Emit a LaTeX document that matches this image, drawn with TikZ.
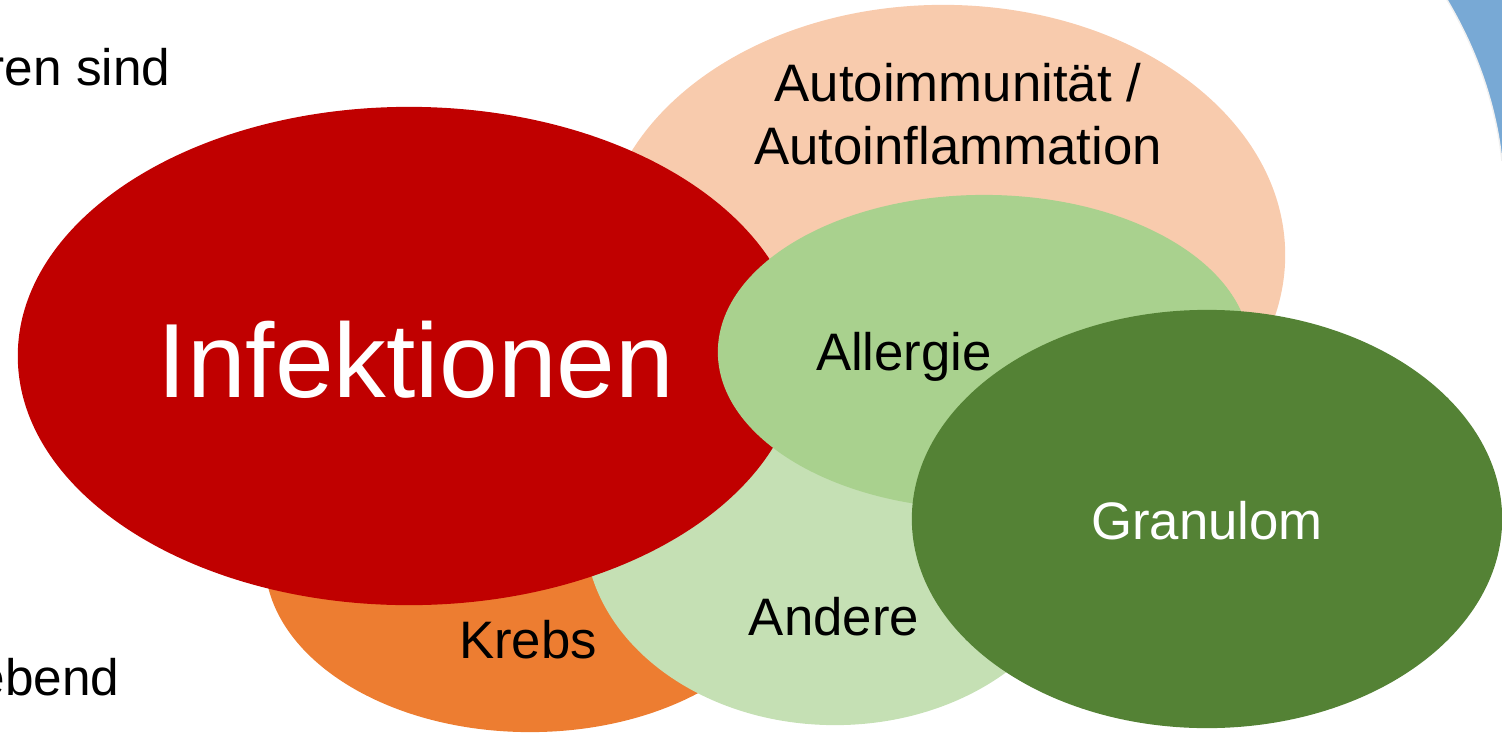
\documentclass[tikz,border=0pt]{standalone}
\usepackage{fontspec}
\setmainfont{Liberation Sans}
\usetikzlibrary{shapes.geometric,positioning}

\definecolor{InfRed}{HTML}{C00000}
\definecolor{AutoPeach}{HTML}{F8CBAD}
\definecolor{KrebsOrange}{HTML}{ED7D31}
\definecolor{AndereGreen}{HTML}{C5E0B4}
\definecolor{AllergieGreen}{HTML}{A9D18E}
\definecolor{GranGreen}{HTML}{548235}
\definecolor{SlideBlue}{HTML}{78A9D5}

\begin{document}
\begin{tikzpicture}[x=0.01cm,y=-0.01cm]
\tikzset{
blob/.style={ ellipse , draw=none , inner sep=0pt },
label/.style={ font=\fontsize{15}{18}\selectfont , align=center , inner sep=0pt },
sidetext/.style={ font=\fontsize{14.6}{17}\selectfont , inner sep=0pt , anchor=base east }
}
\useasboundingbox (0,0) rectangle (1502,733);

% slide background corner
\begin{scope}
\clip (1380,0) rectangle (1502,160);
\fill[SlideBlue] (1380,0) rectangle (1502,160);
\filldraw[fill=white,draw=black!6,line width=0.4pt] (750,200) ellipse [x radius=754,y radius=524];
\end{scope}

% ellipses, back to front
\node[blob, fill=AutoPeach, minimum width=6.84cm, minimum height=5.0cm] (auto) at (943,255) {};
\node[blob, fill=KrebsOrange, minimum width=5.3cm, minimum height=3.44cm] (krebs) at (530,560) {};
\node[blob, fill=AndereGreen, minimum width=5.0cm, minimum height=3.9cm] (andere) at (835,530) {};
\node[blob, fill=InfRed, minimum width=7.82cm, minimum height=4.98cm] (inf) at (409,356) {};
\node[blob, fill=AllergieGreen, minimum width=5.32cm, minimum height=3.14cm] (allergie) at (984,352) {};
\node[blob, fill=GranGreen, minimum width=5.9cm, minimum height=4.18cm] (gran) at (1207,519) {};

% texts
\node[label] (autoText) at (958,114) {Autoimmunität /\\Autoinflammation};
\node[label, font=\fontsize{30}{36}\selectfont, text=white] (infText) at (416,360) {Infektionen};
\node[label] (allergieText) at (904,357) {Allergie};
\node[label, text=white] (granText) at (1207,521) {Granulom};
\node[label] (andereText) at (834,617) {Andere};
\node[label] (krebsText) at (528,640) {Krebs};

% cut-off slide text
\node[sidetext] (topText) at (171,85) {ren sind};
\node[sidetext] (bottomText) at (120,695) {ebend};

\end{tikzpicture}
\end{document}
